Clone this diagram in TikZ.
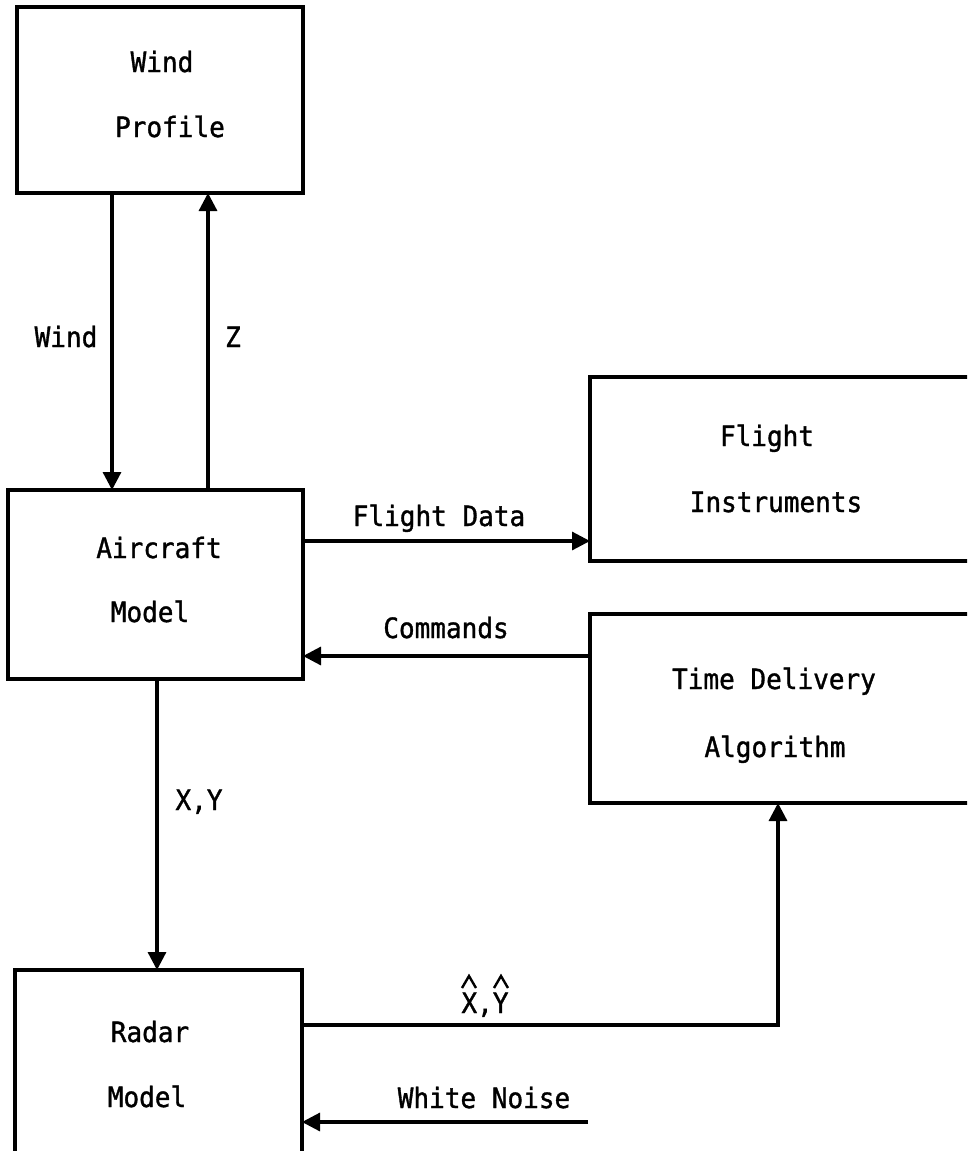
\documentclass[tikz,border=0pt]{standalone}
\usepackage{fontspec}
\newfontfamily\tw[FakeStretch=0.93,FakeBold=1.2]{DejaVu Sans Mono}
\usetikzlibrary{arrows.meta}
\begin{document}
\begin{tikzpicture}[x=1pt,y=-1pt,
  blk/.style={draw, line width=3.6pt, rectangle, inner sep=0pt, outer sep=0pt},
  arr/.style={line width=3.2pt, -{Triangle[length=18pt,width=18pt]}},
  hatline/.style={line width=2.4pt, line join=miter},
  txt/.style={font=\tw\fontsize{28}{30}\selectfont, inner sep=0pt, anchor=base}]
\useasboundingbox (0,0) rectangle (967,1151);
\clip (0,0) rectangle (967,1151);
% boxes
\node[blk, minimum width=286pt, minimum height=186pt] (wp) at (160,100) {};
\node[blk, minimum width=295pt, minimum height=189pt] (ac) at (155.5,584.5) {};
\node[blk, minimum width=510pt, minimum height=184pt] (fi) at (845,469) {};
\node[blk, minimum width=510pt, minimum height=189pt] (td) at (845,708.5) {};
\node[blk, minimum width=287pt, minimum height=280pt] (rd) at (158.5,1110) {};
% box texts
\node[txt] (wp1) at (162,72) {Wind};
\node[txt] (wp2) at (170,137) {Profile};
\node[txt] (ac1) at (159,558) {Aircraft};
\node[txt] (ac2) at (150,622) {Model};
\node[txt] (fi1) at (767,446) {Flight};
\node[txt] (fi2) at (776,512) {Instruments};
\node[txt] (td1) at (774,689) {Time Delivery};
\node[txt] (td2) at (775,757) {Algorithm};
\node[txt] (rd1) at (150,1042) {Radar};
\node[txt] (rd2) at (147,1107) {Model};
% connector labels
\node[txt] (lw) at (66,347) {Wind};
\node[txt] (lz) at (233,347) {Z};
\node[txt] (lf) at (439,526) {Flight Data};
\node[txt] (lc) at (446,638) {Commands};
\node[txt] (lxy) at (199,810) {X,Y};
\node[txt] (lh) at (485,1013) {X,Y};
\node[txt] (ln) at (484,1108) {White Noise};
% hats over X and Y of the estimate label
\draw[hatline] ([shift={(-23,-25)}]lh.base) -- ([shift={(-16,-37)}]lh.base) -- ([shift={(-9,-25)}]lh.base);
\draw[hatline] ([shift={(9,-25)}]lh.base) -- ([shift={(16,-37)}]lh.base) -- ([shift={(23,-25)}]lh.base);
% connectors
\coordinate (cw) at (112,0);
\draw[arr] (wp.south -| cw) -- (ac.north -| cw);
\coordinate (cz) at (208,0);
\draw[arr] (ac.north -| cz) -- (wp.south -| cz);
\coordinate (cf) at (0,541);
\draw[arr] (ac.east |- cf) -- (fi.west |- cf);
\coordinate (cc) at (0,656);
\draw[arr] (td.west |- cc) -- (ac.east |- cc);
\coordinate (cx) at (157,0);
\draw[arr] (ac.south -| cx) -- (rd.north -| cx);
\coordinate (ch) at (778,1025);
\draw[arr] (rd.east |- ch) -| (td.south -| ch);
\coordinate (wn) at (588,1122);
\draw[arr] (wn) -- (rd.east |- wn);
\end{tikzpicture}
\end{document}
